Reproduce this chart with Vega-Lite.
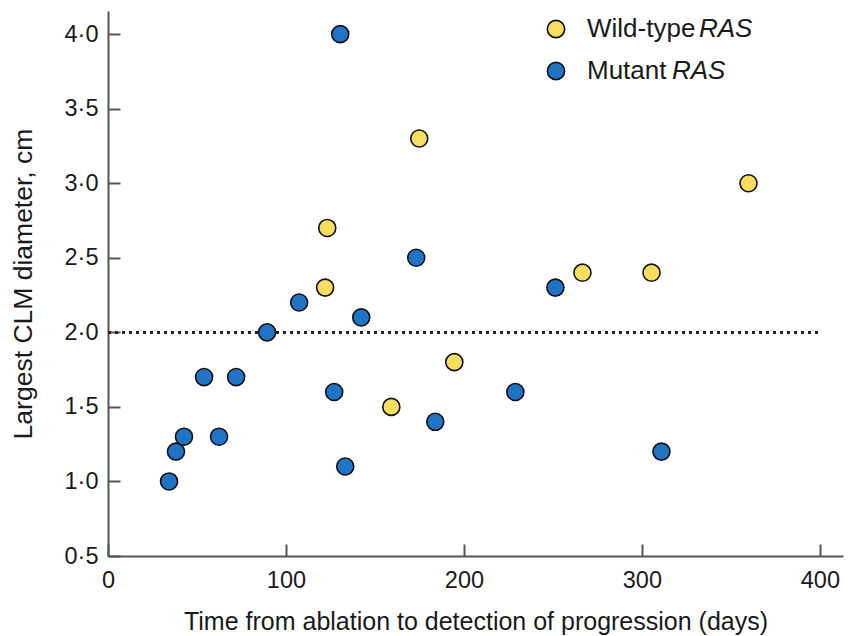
{
  "$schema": "https://vega.github.io/schema/vega-lite/v6.json",
  "width": 735,
  "height": 545,
  "autosize": {"type": "none"},
  "padding": {"left": 108, "top": 11, "right": 12, "bottom": 80},
  "background": "white",
  "config": {
    "view": {"stroke": null},
    "font": "Liberation Sans",
    "axis": {
      "grid": false,
      "domainColor": "#555555",
      "domainWidth": 2,
      "tickColor": "#555555",
      "tickWidth": 2,
      "tickSize": -12,
      "labelFont": "Liberation Sans",
      "labelFontSize": 23.5,
      "labelColor": "#1a1a1a",
      "labelFlush": false,
      "titleFont": "Liberation Sans",
      "titleFontWeight": "normal",
      "titleColor": "#1a1a1a"
    },
    "legend": {
      "labelFont": "Liberation Sans",
      "labelFontSize": 26,
      "labelColor": "#1a1a1a",
      "labelLimit": 400
    }
  },
  "data": {
    "values": [
      {"days": 34.3, "diameter": 1.0, "group": "Mutant RAS"},
      {"days": 38.2, "diameter": 1.2, "group": "Mutant RAS"},
      {"days": 42.7, "diameter": 1.3, "group": "Mutant RAS"},
      {"days": 54, "diameter": 1.7, "group": "Mutant RAS"},
      {"days": 62.4, "diameter": 1.3, "group": "Mutant RAS"},
      {"days": 72, "diameter": 1.7, "group": "Mutant RAS"},
      {"days": 89.4, "diameter": 2.0, "group": "Mutant RAS"},
      {"days": 107.4, "diameter": 2.2, "group": "Mutant RAS"},
      {"days": 127.1, "diameter": 1.6, "group": "Mutant RAS"},
      {"days": 130.5, "diameter": 4.0, "group": "Mutant RAS"},
      {"days": 133.3, "diameter": 1.1, "group": "Mutant RAS"},
      {"days": 142.3, "diameter": 2.1, "group": "Mutant RAS"},
      {"days": 173.2, "diameter": 2.5, "group": "Mutant RAS"},
      {"days": 183.9, "diameter": 1.4, "group": "Mutant RAS"},
      {"days": 228.9, "diameter": 1.6, "group": "Mutant RAS"},
      {"days": 251.4, "diameter": 2.3, "group": "Mutant RAS"},
      {"days": 311, "diameter": 1.2, "group": "Mutant RAS"},
      {"days": 122, "diameter": 2.3, "group": "Wild-type RAS"},
      {"days": 123.2, "diameter": 2.7, "group": "Wild-type RAS"},
      {"days": 159.2, "diameter": 1.5, "group": "Wild-type RAS"},
      {"days": 174.9, "diameter": 3.3, "group": "Wild-type RAS"},
      {"days": 194.6, "diameter": 1.8, "group": "Wild-type RAS"},
      {"days": 266.6, "diameter": 2.4, "group": "Wild-type RAS"},
      {"days": 305.4, "diameter": 2.4, "group": "Wild-type RAS"},
      {"days": 359.9, "diameter": 3.0, "group": "Wild-type RAS"}
    ]
  },
  "layer": [
    {
      "mark": {"type": "rule", "strokeDash": [2.5, 4.5], "strokeWidth": 2.5, "color": "#222222"},
      "encoding": {
        "y": {"datum": 2.0, "type": "quantitative", "scale": {"domain": [0.5, 4.155]}},
        "x": {"datum": 0, "type": "quantitative", "scale": {"domain": [0, 413]}},
        "x2": {"datum": 400}
      }
    },
    {
      "mark": {"type": "point", "filled": true, "size": 290, "stroke": "#111111", "strokeWidth": 1.6},
      "encoding": {
        "x": {
          "field": "days", "type": "quantitative",
          "scale": {"domain": [0, 413], "nice": false, "zero": false},
          "axis": {"values": [0, 100, 200, 300, 400], "title": "Time from ablation to detection of progression (days)", "titleFontSize": 25, "labelPadding": 24, "titlePadding": 18}
        },
        "y": {
          "field": "diameter", "type": "quantitative",
          "scale": {"domain": [0.5, 4.155], "nice": false, "zero": false},
          "axis": {"values": [0.5, 1, 1.5, 2, 2.5, 3, 3.5, 4], "labelExpr": "replace(format(datum.value, '.1f'), '.', '·')", "title": "Largest CLM diameter, cm", "titleFontSize": 26.5, "labelPadding": 22, "titlePadding": 27}
        },
        "color": {
          "field": "group", "type": "nominal",
          "scale": {"domain": ["Wild-type RAS", "Mutant RAS"], "range": ["#f8de5e", "#1f74c6"]},
          "legend": {"title": null, "orient": "none", "legendX": 435, "legendY": 5, "symbolSize": 300, "symbolOpacity": 1, "symbolStrokeColor": "#111111", "symbolStrokeWidth": 1.6, "symbolType": "circle", "rowPadding": 16, "labelOffset": 18, "labelLimit": 400, "padding": 0, "labelExpr": "replace(datum.label, ' RAS', '')",
            "encode": {"symbols": {"update": {"opacity": {"value": 1}, "fillOpacity": {"value": 1}}}}}
        },
        "shape": {
          "field": "group", "type": "nominal", "sort": "descending",
          "scale": {"range": ["circle", "circle"]},
          "legend": {"title": null, "orient": "none", "values": ["Wild-type RAS"], "legendX": 547, "legendY": 5, "symbolSize": 300, "symbolOpacity": 0, "symbolStrokeWidth": 0, "labelOffset": 18, "labelLimit": 400, "padding": 0, "labelFontStyle": "italic", "labelExpr": "'RAS'"}
        },
        "opacity": {
          "field": "group", "type": "nominal", "sort": "ascending",
          "scale": {"range": [1, 1]},
          "legend": {"title": null, "orient": "none", "values": ["Mutant RAS"], "legendX": 520, "legendY": 47, "symbolSize": 0, "symbolStrokeWidth": 0, "symbolOpacity": 0, "labelOffset": 18, "labelLimit": 400, "padding": 0, "labelFontStyle": "italic", "labelExpr": "'RAS'"}
        }
      }
    }
  ]
}
